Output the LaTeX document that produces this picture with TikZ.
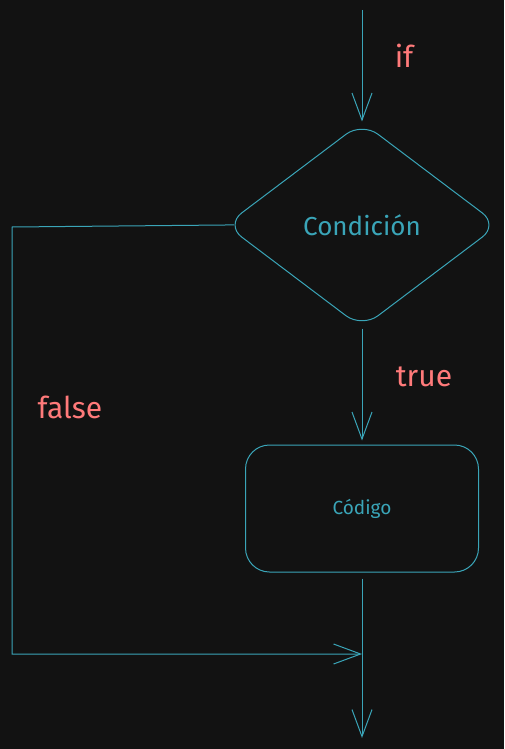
\documentclass[tikz,border=0pt]{standalone}
\usepackage{fontspec}
\setmainfont{Fira Sans}
\usetikzlibrary{arrows.meta, positioning, shapes.geometric}

\definecolor{bgdark}{HTML}{121212}
\definecolor{linecyan}{HTML}{3AA5B8}
\definecolor{labelred}{HTML}{FF7A7A}

\tikzset{
    flow/.style={draw=linecyan, line width=1pt, -{Straight Barb[length=27pt, width=20pt, line width=1pt]}},
    decision/.style={diamond, draw=linecyan, line width=1pt, rounded corners=20pt, minimum width=273pt, minimum height=206pt, inner sep=0pt, text=linecyan, font=\fontsize{26}{29}\selectfont},
    codebox/.style={rectangle, draw=linecyan, line width=1pt, rounded corners=24pt, minimum width=233pt, minimum height=127pt, text=linecyan, font=\fontsize{19}{22}\selectfont},
    branch/.style={text=labelred, font=\fontsize{30}{34}\selectfont}
}

\begin{document}
\begin{tikzpicture}[x=1pt, y=-1pt, node distance=116pt]
    \fill[bgdark] (0,0) rectangle (504,749);
    \useasboundingbox (0,0) rectangle (504,749);

    \node (cond) [decision] at (362,225) {Condición};
    \node (code) [codebox, below=of cond] {Código};

    \coordinate (start) at (362,10);
    \coordinate (end) at (362,738);
    \coordinate (corner) at (12,227);
    \coordinate (merge) at (362,654);

    \node (iflbl) [branch] at (404,56) {if};
    \node (truelbl) [branch] at (424,377) {true};
    \node (falselbl) [branch] at (70,407) {false};

    \draw[flow] (start) -- (cond.north);
    \draw[flow, shorten >=4pt] (cond.south) -- (code.north);
    \draw[flow, shorten <=6pt] (code.south) -- (end);
    \draw[flow, shorten <=-9pt] (cond.west) -- (corner) |- (merge);
\end{tikzpicture}
\end{document}
